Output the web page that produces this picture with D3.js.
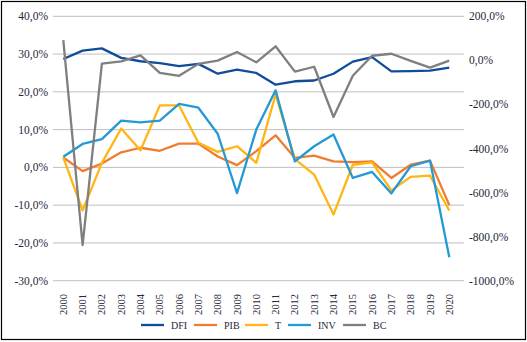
<!DOCTYPE html>
<html>
<head>
<meta charset="utf-8">
<script src="https://cdn.jsdelivr.net/npm/d3@7"></script>
<style>
  body { margin: 0; background: #fff; }
  svg text { font-family: "Liberation Serif", "DejaVu Serif", serif; fill: #26263a; }
</style>
</head>
<body>
<div id="chart"></div>
<script>
// ---------------------------------------------------------------------------
// Data (percent values)

const years = ['2000', '2001', '2002', '2003', '2004', '2005', '2006', '2007', '2008', '2009', '2010',
  '2011', '2012', '2013', '2014', '2015', '2016', '2017', '2018', '2019', '2020'];

const dfi = [28.7, 30.9, 31.5, 29.0, 28.1, 27.6, 26.8, 27.4, 24.8, 25.9, 25.0,
  21.9, 22.8, 23.0, 24.8, 28.0, 29.2, 25.4, 25.5, 25.6, 26.4];
const pib = [2.6, -1.0, 1.0, 4.0, 5.2, 4.4, 6.3, 6.3, 2.9, 0.6, 4.3,
  8.5, 2.5, 3.1, 1.6, 1.4, 1.6, -2.8, 0.7, 1.8, -10.0];
const t = [2.6, -11.4, 1.2, 10.3, 4.5, 16.4, 16.4, 6.5, 4.1, 5.6, 1.2,
  19.3, 2.2, -1.9, -12.5, 0.7, 1.3, -6.1, -2.5, -2.2, -11.4];
const inv = [2.8, 6.2, 7.5, 12.4, 11.9, 12.4, 16.8, 15.8, 8.9, -6.8, 10.0,
  20.4, 1.6, 5.6, 8.7, -2.8, -1.2, -6.9, 0.3, 1.8, -23.8];
// BC is on the secondary (right) axis
const bc = [92, -838, -15, -5, 23, -57, -70, -16, -1, 38, -9,
  64, -51, -29, -257, -70, 21, 30, -2, -33, -1];

const leftTicks = [40, 30, 20, 10, 0, -10, -20, -30];
const rightTicks = [200, 0, -200, -400, -600, -800, -1000];

const series = [
  { name: 'DFI', values: dfi, color: '#0f4c9c', axis: 'left' },
  { name: 'PIB', values: pib, color: '#ef7d2d', axis: 'left' },
  { name: 'T', values: t, color: '#ffb514', axis: 'left' },
  { name: 'INV', values: inv, color: '#2499d6', axis: 'left' },
  { name: 'BC', values: bc, color: '#7f7f7f', axis: 'right' }
];

// ---------------------------------------------------------------------------
// Layout

const width = 527;
const height = 342;
const plotLeft = 53;
const plotRight = 464;
const plotTop = 16.3;
const plotBottom = 280.7;

const svg = d3.select('#chart').append('svg')
  .attr('width', width)
  .attr('height', height);

// outer frame
svg.append('rect')
  .attr('x', 1.5).attr('y', 1.5)
  .attr('width', width - 3).attr('height', height - 4)
  .attr('fill', 'none')
  .attr('stroke', '#000')
  .attr('stroke-width', 1.2);

const x = d3.scalePoint()
  .domain(years)
  .range([63.3, 449.3]);

const yLeft = d3.scaleLinear()
  .domain([-30, 40])
  .range([plotBottom, plotTop]);

const yRight = d3.scaleLinear()
  .domain([-1000, 200])
  .range([plotBottom, plotTop]);

const fmt = v => d3.format('.1f')(v).replace('.', ',').replace('−', '-') + '%';

// gridlines
svg.append('g')
  .selectAll('line')
  .data(leftTicks)
  .enter()
  .append('line')
  .attr('x1', plotLeft)
  .attr('x2', plotRight)
  .attr('y1', d => yLeft(d))
  .attr('y2', d => yLeft(d))
  .attr('stroke', '#bfbfbf')
  .attr('stroke-width', 1);

// left axis labels
svg.append('g')
  .selectAll('text')
  .data(leftTicks)
  .enter()
  .append('text')
  .attr('x', 48)
  .attr('y', d => yLeft(d))
  .attr('dy', '0.35em')
  .attr('text-anchor', 'end')
  .style('font-size', '11.5px')
  .text(fmt);

// right axis labels
svg.append('g')
  .selectAll('text')
  .data(rightTicks)
  .enter()
  .append('text')
  .attr('x', 469)
  .attr('y', d => yRight(d))
  .attr('dy', '0.35em')
  .attr('text-anchor', 'start')
  .style('font-size', '11.5px')
  .text(fmt);

// year labels, rotated
svg.append('g')
  .selectAll('text')
  .data(years)
  .enter()
  .append('text')
  .attr('transform', d => `translate(${x(d) + 3.5},294) rotate(-90)`)
  .attr('text-anchor', 'end')
  .style('font-size', '10.5px')
  .text(d => d);

// lines
const lineFor = s => d3.line()
  .x((d, i) => x(years[i]))
  .y(d => (s.axis === 'left' ? yLeft(d) : yRight(d)));

svg.append('g')
  .selectAll('path')
  .data(series)
  .enter()
  .append('path')
  .attr('d', s => lineFor(s)(s.values))
  .attr('fill', 'none')
  .attr('stroke', s => s.color)
  .attr('stroke-width', 2.3)
  .attr('stroke-linejoin', 'round');

// legend
const legendX = [141, 194, 245, 288, 343];
const legend = svg.append('g')
  .selectAll('g')
  .data(series)
  .enter()
  .append('g')
  .attr('transform', (d, i) => `translate(${legendX[i]},325)`);
legend.append('line')
  .attr('x1', 0).attr('x2', 23)
  .attr('y1', 0).attr('y2', 0)
  .attr('stroke', d => d.color)
  .attr('stroke-width', 2.3);
legend.append('text')
  .attr('x', 30)
  .attr('y', 0)
  .attr('dy', '0.35em')
  .style('font-size', '10px')
  .text(d => d.name);
</script>
</body>
</html>
